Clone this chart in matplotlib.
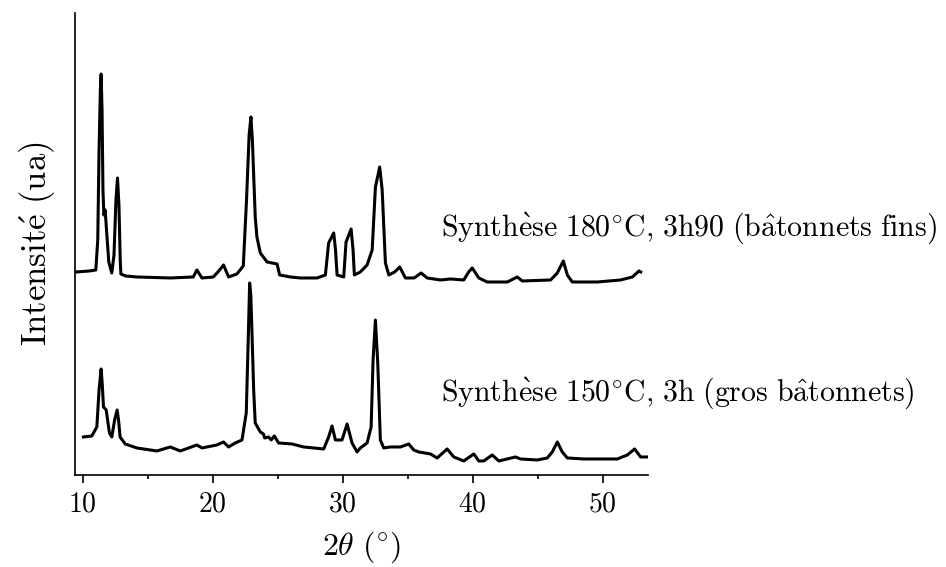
import matplotlib
matplotlib.use("Agg")
import matplotlib.pyplot as plt
from matplotlib.ticker import MultipleLocator

plt.rcParams['mathtext.fontset'] = 'cm'
plt.rcParams['font.family'] = ['cmr10', 'DejaVu Serif']
plt.rcParams['axes.formatter.use_mathtext'] = True

# Synthese 180 C, 3h90 (batonnets fins), arbitrary units
theta_180 = [9.48, 10.5, 11.0, 11.15, 11.25, 11.35, 11.41, 11.48, 11.55, 11.62, 11.72, 11.85,
             12.0, 12.23, 12.4, 12.55, 12.67, 12.78, 12.88, 12.93, 13.3, 14.16, 16.73, 18.5,
             18.78, 19.17, 20.04, 20.4, 20.83, 21.22, 21.86, 22.35, 22.6, 22.8, 22.94, 23.05,
             23.27, 23.4, 23.66, 24.18, 24.95, 25.15, 25.97, 26.74, 28.03, 28.67, 28.92, 29.31,
             29.45, 29.57, 30.08, 30.26, 30.65, 30.8, 30.9, 31.36, 31.88, 32.27, 32.52, 32.85,
             33.04, 33.29, 33.55, 34.0, 34.39, 34.83, 35.5, 36.04, 36.5, 37.53, 38.3, 39.32,
             39.7, 39.97, 40.48, 41.12, 42.67, 43.44, 43.82, 46.0, 46.52, 46.98, 47.29, 47.67,
             49.6, 51.39, 52.3, 52.8, 52.94]
int_180 = [203, 204, 205, 235, 325, 385, 401, 365, 285, 260, 265, 240,
           213, 202, 220, 275, 297, 270, 215, 201, 199, 198, 197, 198,
           205, 197, 198, 203, 210, 198, 201, 209, 275, 340, 358, 335,
           258, 238, 222, 213, 211, 200, 198, 197, 197, 200, 232, 242,
           225, 200, 198, 233, 246, 225, 200, 203, 210, 225, 288, 308,
           285, 212, 200, 203, 208, 197, 197, 202, 197, 195, 196, 195,
           203, 207, 197, 193, 193, 198, 194, 195, 202, 214, 200, 193,
           193, 195, 198, 204, 203]

# Synthese 150 C, 3h (gros batonnets)
theta_150 = [10.05, 10.69, 11.08, 11.25, 11.41, 11.5, 11.59, 11.8, 12.05, 12.23, 12.45, 12.64,
             12.75, 12.87, 13.26, 14.16, 15.7, 16.73, 17.5, 18.78, 19.17, 20.32, 20.83, 21.22,
             21.73, 22.25, 22.58, 22.75, 22.84, 22.93, 23.02, 23.15, 23.27, 23.66, 23.9, 24.0,
             24.3, 24.5, 24.74, 25.07, 26.1, 27.0, 28.54, 28.92, 29.18, 29.44, 29.95, 30.34,
             30.72, 31.11, 31.36, 31.88, 32.19, 32.34, 32.52, 32.7, 32.9, 33.16, 33.68, 34.45,
             35.08, 35.47, 35.86, 36.76, 37.27, 38.04, 38.55, 39.32, 40.09, 40.48, 40.86, 41.51,
             42.02, 43.3, 43.69, 44.98, 45.75, 46.13, 46.52, 46.9, 47.29, 48.57, 51.14, 51.91,
             52.47, 52.93, 53.45]
int_150 = [38, 39, 48, 85, 106, 90, 68, 65, 42, 38, 55, 65,
           55, 38, 31, 27, 24, 28, 24, 30, 27, 30, 33, 28,
           32, 35, 62, 145, 192, 180, 142, 85, 52, 43, 41, 37,
           38, 35, 39, 32, 31, 28, 26, 38, 49, 35, 35, 51,
           32, 23, 27, 32, 48, 115, 155, 112, 35, 27, 28, 28,
           31, 25, 23, 21, 17, 26, 18, 14, 21, 14, 14, 20,
           14, 18, 16, 15, 17, 23, 33, 23, 17, 16, 16, 20,
           26, 18, 18]

label_180 = r'$\mathrm{Synth\grave{e}se\ 180^{\circ}C{,}\ 3h90\ (b\hat{a}tonnets\ fins)}$'
label_150 = r'$\mathrm{Synth\grave{e}se\ 150^{\circ}C{,}\ 3h\ (gros\ b\hat{a}tonnets)}$'

fig = plt.figure(figsize=(9.46, 5.67), dpi=100)
ax = fig.add_axes([0.0793, 0.1623, 0.6057, 0.8148])

ax.plot(theta_180, int_180, color='black', lw=2.2)
ax.plot(theta_150, int_150, color='black', lw=2.2)

ax.text(37.6, 247, label_180, fontsize=21.5, va='center', ha='left')
ax.text(37.6, 82, label_150, fontsize=21.5, va='center', ha='left')

ax.set_xlim(9.4, 53.5)
ax.set_ylim(0, 462)
ax.spines['top'].set_visible(False)
ax.spines['right'].set_visible(False)
ax.spines['left'].set_linewidth(1.2)
ax.spines['bottom'].set_linewidth(1.2)
ax.xaxis.set_major_locator(MultipleLocator(10))
ax.xaxis.set_minor_locator(MultipleLocator(5))
ax.tick_params(axis='x', which='major', direction='out', length=6, width=1.2, labelsize=20, pad=6)
ax.tick_params(axis='x', which='minor', direction='out', length=3, width=1.2)
ax.set_yticks([])

ax.set_xlabel(r'$2\theta\ (^{\circ})$', fontsize=23, labelpad=8)
ax.set_ylabel(r'$\mathrm{Intensit\acute{e}\ (ua)}$', fontsize=25, labelpad=12)

fig.savefig('out.png', dpi=100)
